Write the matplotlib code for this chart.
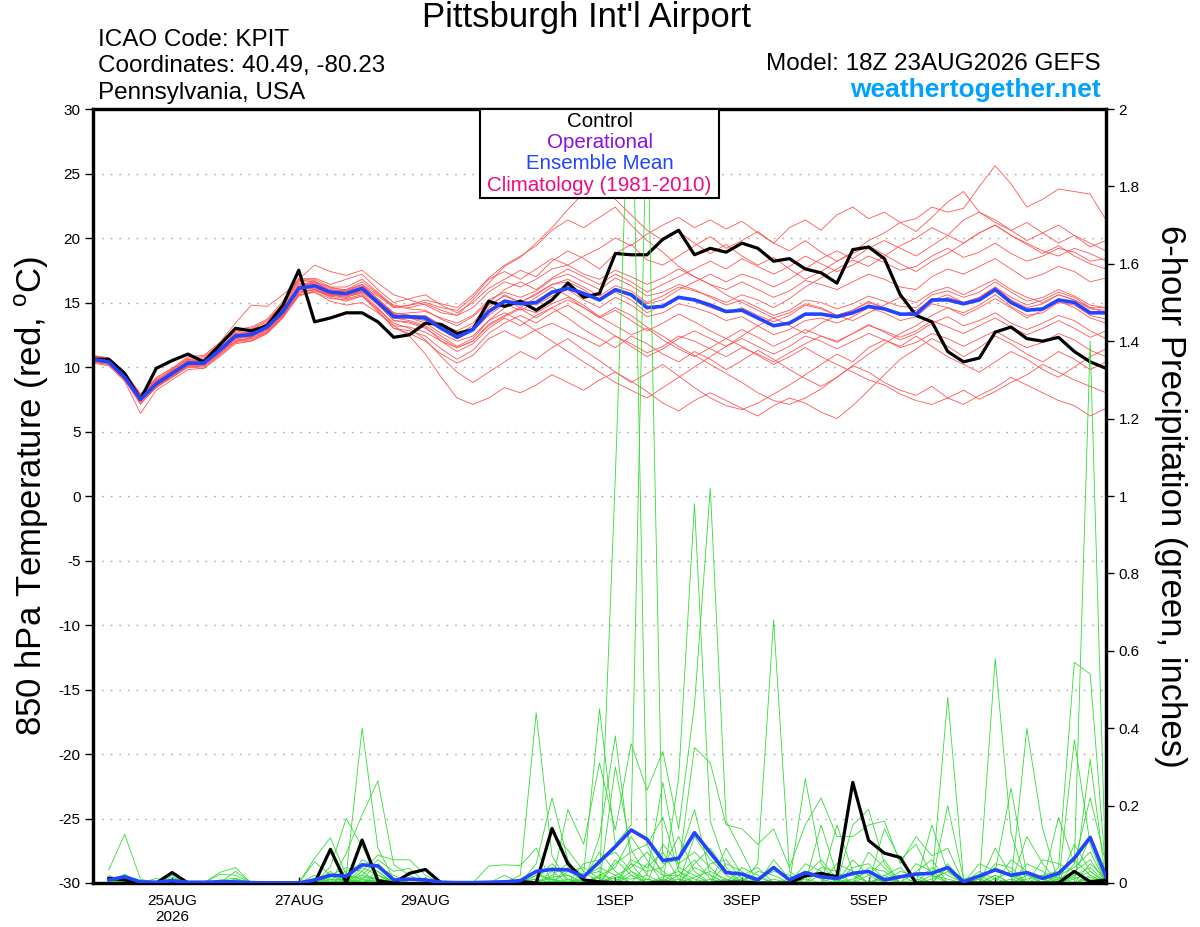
import matplotlib
matplotlib.use("Agg")
import matplotlib.pyplot as plt
from matplotlib.patches import Rectangle
from matplotlib.ticker import FuncFormatter

plt.rcParams['font.family'] = ['Liberation Sans', 'DejaVu Sans']
plt.rcParams['mathtext.fontset'] = 'custom'
plt.rcParams['mathtext.rm'] = 'Liberation Sans'

# ---------------- data ----------------
TEMP_HOURS = list(range(0, 385, 6))      # hours after 18Z 23AUG2026
PRECIP_HOURS = list(range(6, 385, 6))

XTICK_HOURS = [30, 78, 126, 198, 246, 294, 342]
XTICK_LABELS = ['25AUG\n2026', '27AUG', '29AUG', '1SEP', '3SEP', '5SEP', '7SEP']
TEMP_TICKS = [30, 25, 20, 15, 10, 5, 0, -5, -10, -15, -20, -25, -30]
PRECIP_TICKS = [0, 0.2, 0.4, 0.6, 0.8, 1.0, 1.2, 1.4, 1.6, 1.8, 2.0]

CONTROL_TEMP = [10.6, 10.6, 9.5, 7.5, 9.9, 10.5, 11.0, 10.4, 11.7, 13.0, 12.8, 13.2, 14.8,
                17.5, 13.5, 13.8, 14.2, 14.2, 13.5, 12.3, 12.5, 13.4, 13.3, 12.6, 12.9, 15.1,
                14.7, 15.1, 14.4, 15.2, 16.5, 15.4, 15.7, 18.8, 18.7, 18.7, 19.9, 20.6, 18.7,
                19.2, 18.9, 19.6, 19.2, 18.2, 18.4, 17.6, 17.3, 16.5, 19.1, 19.3, 18.4, 15.6,
                14.0, 13.5, 11.2, 10.4, 10.7, 12.7, 13.1, 12.2, 12.0, 12.3, 11.2, 10.4, 9.9]

MEAN_TEMP = [10.6, 10.4, 9.2, 7.5, 8.7, 9.5, 10.3, 10.3, 11.3, 12.4, 12.5, 13.1, 14.3,
             16.1, 16.3, 15.8, 15.7, 16.1, 15.0, 13.9, 13.9, 13.8, 13.0, 12.3, 12.9, 14.3,
             15.1, 14.9, 15.0, 15.8, 16.1, 15.7, 15.2, 16.0, 15.6, 14.6, 14.7, 15.4, 15.2,
             14.8, 14.3, 14.4, 13.8, 13.2, 13.4, 14.1, 14.1, 13.9, 14.2, 14.7, 14.5, 14.1,
             14.1, 15.2, 15.2, 14.9, 15.2, 16.0, 15.0, 14.4, 14.5, 15.2, 15.0, 14.2, 14.2]

TEMP_MEMBERS = [
    [10.8, 10.6, 9.4, 7.8, 8.9, 9.8, 10.6, 10.5, 11.6, 12.8, 13.0, 13.6, 14.9,
     16.6, 16.9, 16.4, 16.8, 17.2, 16.0, 15.0, 15.3, 15.6, 14.8, 14.2, 15.0, 16.1,
     16.8, 17.5, 17.0, 18.2, 19.0, 18.4, 17.6, 18.8, 19.5, 18.3, 17.9, 18.6, 19.4,
     20.1, 19.2, 19.8, 20.5, 19.6, 20.8, 21.4, 20.6, 21.8, 22.4, 21.5, 22.0, 21.2,
     21.5, 22.4, 22.0, 22.3, 24.0, 25.6, 24.2, 22.4, 23.0, 23.8, 23.6, 23.4, 21.4],
    [10.4, 10.2, 9.0, 7.2, 8.4, 9.3, 10.1, 10.0, 11.0, 12.3, 12.6, 13.4, 14.8,
     16.8, 17.9, 17.4, 17.1, 17.5, 16.5, 15.6, 15.2, 14.8, 14.2, 14.0, 15.2, 16.5,
     17.8, 18.5, 19.6, 20.8, 22.2, 23.5, 24.2, 23.0, 21.8, 20.6, 19.8, 20.5, 19.6,
     18.8, 19.5, 18.6, 17.9, 18.5, 17.6, 16.8, 17.4, 18.2, 18.9, 19.8, 20.4, 21.2,
     20.5, 21.6, 22.8, 23.6, 22.0, 21.4, 20.6, 19.8, 20.4, 19.6, 20.2, 19.3, 19.8],
    [10.9, 10.7, 9.6, 7.9, 9.0, 9.7, 10.4, 10.6, 11.5, 12.1, 12.2, 12.7, 14.0,
     15.6, 15.8, 15.1, 14.8, 15.0, 14.2, 13.2, 12.4, 11.0, 9.2, 7.6, 7.1, 7.6,
     8.4, 8.0, 8.6, 9.4, 8.8, 8.2, 9.0, 9.6, 8.9, 8.1, 7.2, 6.6, 7.4,
     8.0, 7.4, 6.8, 6.2, 7.0, 7.6, 7.2, 6.5, 6.0, 7.0, 8.2, 9.4, 10.6,
     11.4, 12.2, 11.6, 10.8, 11.5, 12.4, 11.8, 11.0, 10.4, 11.2, 10.6, 9.8, 10.4],
    [10.5, 10.3, 9.1, 7.4, 8.5, 9.2, 10.0, 10.2, 11.2, 12.0, 12.3, 12.9, 14.1,
     15.9, 16.0, 15.4, 15.1, 15.5, 14.5, 13.4, 13.0, 12.1, 10.8, 9.6, 8.8, 9.6,
     10.4, 11.2, 10.6, 11.5, 12.2, 11.3, 10.5, 9.6, 8.8, 9.5, 10.2, 9.3, 8.4,
     7.6, 7.0, 6.7, 7.2, 7.9, 8.6, 9.4, 10.2, 11.0, 10.4, 11.5, 12.1, 11.6,
     12.4, 11.6, 10.8, 10.2, 9.6, 10.4, 11.2, 10.6, 9.8, 9.2, 10.0, 10.8, 11.4],
    [10.7, 10.5, 9.3, 7.6, 8.8, 9.6, 10.4, 10.4, 11.4, 12.5, 12.6, 13.0, 14.2,
     16.0, 16.2, 15.6, 15.4, 15.9, 14.8, 13.6, 13.5, 13.1, 12.0, 11.2, 11.8, 13.0,
     13.8, 13.2, 14.0, 14.6, 13.8, 12.9, 12.2, 11.5, 12.4, 11.8, 11.0, 10.4, 11.2,
     10.6, 9.8, 10.5, 11.3, 10.6, 9.8, 9.1, 8.5, 9.2, 10.1, 9.6, 8.8, 8.2,
     7.8, 8.5, 7.6, 7.1, 7.8, 8.4, 9.2, 8.6, 8.0, 7.4, 7.0, 6.2, 6.8],
    [10.3, 10.1, 8.9, 6.4, 8.2, 9.0, 9.8, 9.9, 10.8, 11.8, 12.0, 12.6, 13.8,
     15.5, 15.9, 15.5, 15.6, 16.0, 15.2, 14.2, 14.0, 14.0, 13.2, 12.5, 13.2, 14.4,
     15.2, 14.6, 15.4, 16.2, 15.5, 14.8, 13.9, 13.2, 12.5, 13.0, 12.1, 11.4, 10.8,
     11.5, 12.2, 11.6, 10.9, 10.2, 10.8, 11.5, 10.8, 10.2, 9.6, 9.0, 8.6, 7.9,
     7.4, 7.1, 7.6, 8.2, 7.5, 8.1, 8.8, 9.4, 10.2, 9.6, 9.0, 8.5, 8.0],
    [10.6, 10.4, 9.2, 7.6, 8.8, 9.6, 10.5, 10.4, 11.5, 12.6, 12.7, 13.3, 14.6,
     16.3, 16.5, 16.0, 15.9, 16.3, 15.2, 14.1, 14.2, 14.3, 13.8, 13.4, 14.0, 15.2,
     15.8, 15.4, 15.9, 16.8, 17.2, 16.6, 16.0, 16.9, 16.3, 15.5, 15.8, 16.4, 16.0,
     15.4, 14.8, 15.2, 14.6, 14.0, 14.4, 15.2, 15.0, 14.5, 14.9, 15.5, 15.1, 14.7,
     14.6, 15.6, 15.9, 15.4, 15.8, 16.6, 15.8, 15.1, 15.4, 16.0, 15.5, 14.8, 14.6],
    [10.8, 10.7, 9.6, 7.9, 9.1, 9.9, 10.7, 10.8, 11.8, 12.9, 13.1, 13.7, 15.1,
     16.9, 16.8, 16.2, 15.9, 16.4, 15.6, 14.8, 14.6, 14.9, 14.4, 14.0, 14.6, 15.8,
     16.6, 16.2, 16.8, 17.6, 17.9, 17.2, 16.8, 17.5, 17.0, 16.4, 16.9, 17.6, 17.0,
     16.4, 16.0, 16.6, 16.0, 15.4, 15.9, 16.7, 16.4, 16.0, 16.6, 17.2, 16.8, 16.2,
     16.0, 17.0, 17.6, 17.2, 17.8, 18.4, 17.6, 16.8, 17.2, 17.8, 17.4, 16.6, 16.9],
    [10.4, 10.2, 9.1, 7.3, 8.6, 9.4, 10.2, 10.1, 11.1, 12.2, 12.4, 13.0, 14.4,
     16.2, 16.6, 16.1, 16.0, 16.6, 15.7, 14.6, 14.8, 15.0, 14.6, 14.4, 15.4, 16.8,
     17.4, 16.8, 17.6, 18.4, 17.9, 18.6, 19.2, 20.0, 19.4, 20.3, 21.0, 21.6, 20.8,
     21.4, 20.7, 21.3, 20.4, 19.6, 19.0, 19.8, 18.9, 18.2, 18.8, 19.4, 18.7, 18.0,
     17.4, 18.2, 18.8, 19.6, 20.4, 21.0, 20.2, 19.5, 18.8, 19.4, 18.6, 18.0, 17.6],
    [10.6, 10.4, 9.4, 7.7, 8.6, 9.3, 10.0, 10.1, 11.0, 12.0, 12.2, 12.8, 14.0,
     15.8, 16.0, 15.6, 15.5, 15.7, 14.6, 13.2, 13.1, 12.7, 12.0, 11.5, 12.0, 13.2,
     13.9, 14.5, 13.8, 14.6, 15.2, 14.6, 13.8, 14.4, 13.6, 12.8, 13.4, 14.1, 13.5,
     12.8, 12.2, 12.9, 12.3, 11.6, 12.2, 12.9, 12.4, 11.9, 12.6, 13.3, 12.7, 12.1,
     12.6, 13.4, 13.9, 13.2, 13.6, 14.2, 13.4, 12.9, 13.4, 14.0, 13.6, 12.8, 12.2],
    [10.9, 10.6, 9.4, 7.5, 8.9, 9.8, 10.6, 10.7, 11.7, 12.7, 12.9, 13.5, 14.9,
     16.8, 16.7, 15.8, 15.5, 15.9, 15.0, 14.1, 13.8, 13.4, 12.6, 12.0, 12.4, 13.6,
     14.6, 15.2, 14.8, 15.5, 16.0, 15.2, 14.6, 15.4, 14.8, 13.9, 14.2, 14.9, 14.6,
     14.2, 13.6, 13.9, 13.2, 12.5, 12.9, 13.6, 13.8, 13.4, 13.9, 14.6, 14.2, 13.6,
     13.9, 14.9, 14.6, 14.2, 14.8, 15.6, 14.7, 14.0, 14.2, 15.0, 14.8, 14.0, 13.7],
    [10.5, 10.3, 9.0, 7.1, 8.5, 9.4, 10.3, 10.3, 11.4, 12.6, 12.7, 13.4, 14.7,
     16.5, 16.4, 15.9, 16.0, 16.4, 15.3, 14.2, 14.0, 13.7, 12.9, 12.3, 13.0, 14.6,
     15.6, 15.0, 15.7, 16.4, 16.8, 16.2, 15.5, 16.3, 15.9, 15.0, 15.5, 16.2, 15.9,
     15.5, 15.0, 15.6, 15.2, 14.6, 15.3, 16.2, 16.9, 17.6, 18.3, 17.8, 18.6, 19.4,
     20.0, 20.8, 20.2, 21.4, 22.0, 21.2, 20.6, 21.2, 20.4, 21.0, 20.2, 19.6, 19.0],
    [10.7, 10.5, 9.3, 7.7, 8.7, 9.5, 10.2, 10.2, 11.2, 12.3, 12.4, 13.0, 14.2,
     16.0, 16.1, 15.6, 15.4, 15.8, 14.9, 13.8, 13.6, 13.2, 12.4, 11.6, 12.2, 13.6,
     14.2, 13.6, 12.8, 12.0, 11.2, 10.4, 9.6, 8.8, 8.2, 7.6, 8.4, 9.2, 10.0,
     10.8, 11.6, 12.4, 13.2, 13.8, 13.2, 12.6, 13.4, 14.0, 13.6, 14.2, 14.8, 15.4,
     15.0, 15.8, 16.2, 15.6, 16.2, 16.8, 16.0, 15.4, 15.0, 15.6, 15.2, 14.6, 14.2],
    [10.6, 10.5, 9.5, 7.8, 9.0, 9.7, 10.4, 10.6, 11.4, 12.3, 12.5, 13.1, 14.5,
     16.4, 16.6, 16.2, 16.2, 16.8, 15.8, 14.7, 14.5, 14.4, 13.7, 13.2, 13.9, 15.0,
     16.0, 16.6, 16.0, 16.9, 17.6, 17.0, 16.4, 17.2, 16.6, 15.8, 16.4, 17.0, 17.6,
     18.2, 17.6, 18.4, 17.8, 17.2, 17.8, 18.6, 18.0, 17.4, 17.9, 18.6, 18.1, 17.5,
     17.8, 18.6, 19.2, 18.5, 18.9, 19.6, 18.8, 18.2, 18.6, 19.2, 18.9, 18.2, 18.4],
    [10.4, 10.2, 9.0, 7.4, 8.4, 9.2, 10.0, 9.9, 10.9, 11.9, 12.0, 12.6, 13.9,
     15.7, 16.0, 15.5, 15.3, 15.6, 14.4, 13.0, 12.6, 12.0, 11.0, 10.3, 10.9, 12.2,
     12.8, 12.2, 12.9, 13.4, 12.8, 12.2, 11.6, 12.4, 11.8, 11.1, 11.6, 12.4, 12.0,
     11.4, 10.8, 11.5, 11.0, 10.4, 11.1, 11.8, 12.4, 12.0, 12.6, 13.2, 12.8, 12.3,
     12.8, 13.6, 13.1, 12.6, 13.2, 13.8, 13.1, 12.5, 13.0, 13.6, 13.0, 12.3, 12.8],
    [10.8, 10.6, 9.5, 7.9, 9.2, 9.9, 10.8, 10.9, 11.9, 13.4, 14.8, 14.7, 15.6,
     16.7, 16.6, 15.8, 15.6, 16.2, 15.5, 14.6, 14.8, 15.2, 14.9, 14.6, 15.6, 16.9,
     17.9, 18.6, 19.4, 20.6, 21.4, 20.8, 21.6, 22.4, 21.0, 19.8, 18.9, 17.8, 17.0,
     16.4, 15.6, 15.0, 14.4, 13.8, 14.2, 14.9, 14.6, 14.0, 14.4, 15.0, 14.6, 14.0,
     14.4, 15.2, 15.6, 15.0, 15.4, 16.2, 15.4, 14.8, 15.2, 15.8, 15.4, 14.6, 14.6],
    [10.5, 10.4, 9.3, 7.5, 8.6, 9.4, 10.2, 10.3, 11.2, 12.2, 12.3, 12.9, 14.1,
     15.8, 16.0, 15.6, 15.6, 15.9, 14.9, 13.6, 13.4, 13.0, 12.2, 11.5, 12.0, 13.3,
     14.0, 14.6, 14.2, 14.9, 15.4, 14.6, 13.9, 14.6, 14.0, 13.1, 12.4, 11.6, 10.9,
     10.2, 9.5, 8.8, 8.0, 7.4, 7.1, 7.6, 8.3, 9.2, 10.1, 11.0, 11.8, 12.6,
     13.2, 14.0, 14.6, 14.0, 14.6, 15.3, 14.6, 13.8, 14.4, 15.1, 14.6, 13.8, 13.4],
    [10.6, 10.3, 9.1, 7.3, 8.5, 9.4, 10.3, 10.2, 11.3, 12.5, 12.5, 13.2, 14.4,
     16.2, 16.2, 15.6, 15.6, 16.0, 14.9, 13.8, 13.8, 13.9, 13.3, 12.8, 13.4, 14.8,
     15.5, 15.0, 15.6, 16.4, 16.6, 16.0, 15.2, 15.8, 15.2, 14.2, 14.8, 15.5, 15.1,
     14.6, 14.2, 14.6, 14.0, 13.5, 14.0, 14.8, 14.5, 14.0, 14.4, 15.1, 14.6, 14.0,
     14.2, 15.0, 15.4, 15.0, 15.4, 16.2, 15.2, 14.6, 14.9, 15.6, 15.2, 14.5, 14.4],
    [10.7, 10.6, 9.2, 7.5, 8.8, 9.7, 10.5, 10.4, 11.4, 12.6, 12.6, 13.2, 14.4,
     16.2, 16.4, 15.9, 15.8, 16.2, 15.0, 13.8, 13.8, 13.6, 12.9, 12.2, 12.8, 14.0,
     14.9, 14.4, 15.0, 15.8, 16.2, 15.8, 15.3, 16.0, 15.7, 14.9, 15.2, 16.0, 16.6,
     17.2, 16.6, 17.2, 16.8, 16.2, 16.8, 17.6, 18.4, 19.0, 18.4, 19.2, 19.8, 19.2,
     18.6, 19.4, 20.2, 19.6, 20.4, 21.0, 20.2, 19.6, 19.0, 18.6, 19.2, 18.8, 18.2],
    [10.4, 10.3, 9.2, 7.4, 8.6, 9.4, 10.1, 10.2, 11.1, 12.0, 12.1, 12.7, 13.9,
     15.6, 15.8, 15.3, 15.2, 15.5, 14.3, 13.0, 12.8, 12.4, 11.4, 10.6, 11.3, 12.6,
     13.4, 14.0, 13.4, 14.2, 14.8, 14.0, 13.2, 12.4, 11.6, 10.8, 11.4, 12.2, 12.8,
     12.2, 11.6, 12.2, 11.6, 11.0, 11.6, 12.4, 12.0, 11.4, 12.0, 12.6, 12.1, 11.5,
     11.9, 12.6, 12.2, 11.6, 12.2, 12.8, 12.1, 11.5, 11.9, 12.6, 12.1, 11.3, 10.8],
]

CONTROL_PRECIP = [0.012, 0.008, 0, 0, 0.027, 0, 0, 0,
                  0, 0, 0, 0, 0, 0, 0.087, 0,
                  0.111, 0.006, 0, 0.025, 0.035, 0, 0, 0,
                  0, 0.002, 0.004, 0, 0.141, 0.05, 0.008, 0.003,
                  0.001, 0, 0, 0.002, 0, 0, 0, 0.002,
                  0.002, 0, 0, 0, 0.018, 0.025, 0.016, 0.26,
                  0.11, 0.077, 0.066, 0, 0, 0, 0, 0,
                  0, 0, 0, 0, 0, 0.03, 0.003, 0.008]

MEAN_PRECIP = [0.008, 0.016, 0.003, 0.002, 0.006, 0.002, 0.002, 0.003,
               0.003, 0.001, 0, 0, 0, 0.008, 0.02, 0.018,
               0.047, 0.044, 0.008, 0.01, 0.008, 0.002, 0.001, 0.001,
               0.002, 0.003, 0.006, 0.03, 0.035, 0.034, 0.016, 0.055,
               0.094, 0.137, 0.113, 0.058, 0.064, 0.13, 0.078, 0.027,
               0.023, 0.008, 0.04, 0.008, 0.027, 0.016, 0.012, 0.025,
               0.03, 0.008, 0.016, 0.023, 0.025, 0.04, 0.003, 0.018,
               0.034, 0.02, 0.027, 0.012, 0.025, 0.064, 0.118, 0.016]

# member precipitation: non-zero 6-hour totals (inches) keyed by forecast hour
PRECIP_MEMBERS = [
    {6: 0.034, 12: 0.126, 18: 0.01, 90: 0.042, 96: 0.167, 102: 0.094, 108: 0.02, 168: 0.05,
     174: 0.22, 180: 0.06, 198: 1.05, 204: 2.25, 210: 0.1, 216: 0.02, 252: 0.05, 258: 0.68,
     264: 0.03, 300: 0.02, 318: 0.15, 324: 0.03, 342: 0.09, 348: 0.02, 372: 0.05, 378: 1.40},
    {12: 0.023, 30: 0.02, 84: 0.064, 90: 0.117, 96: 0.02, 102: 0.40, 108: 0.09, 114: 0.01,
     186: 0.025, 192: 0.45, 198: 0.1, 204: 0.15, 210: 2.05, 216: 0.05, 222: 0.06, 228: 0.19,
     234: 0.02, 270: 0.27, 276: 0.05, 324: 0.48, 330: 0.01, 336: 0.02, 354: 0.12, 360: 0.05,
     372: 0.37, 378: 0.1},
    {6: 0.02, 24: 0.012, 48: 0.027, 54: 0.04, 84: 0.02, 96: 0.077, 102: 0.176, 108: 0.264,
     114: 0.047, 120: 0.02, 162: 0.02, 168: 0.44, 174: 0.07, 192: 0.12, 198: 0.38, 204: 0.05,
     222: 0.27, 228: 0.98, 234: 0.16, 240: 0.04, 288: 0.15, 294: 0.19, 300: 0.05, 342: 0.58,
     348: 0.13, 366: 0.04, 372: 0.57, 378: 0.54, 384: 0.02},
    {12: 0.015, 30: 0.015, 54: 0.03, 90: 0.03, 102: 0.03, 108: 0.072, 114: 0.06, 120: 0.06,
     126: 0.02, 150: 0.044, 156: 0.047, 162: 0.045, 168: 0.09, 180: 0.19, 186: 0.1, 192: 0.31,
     198: 0.137, 204: 0.36, 210: 0.24, 216: 0.34, 222: 0.14, 228: 0.46, 234: 1.02, 240: 0.16,
     246: 0.08, 282: 0.15, 288: 0.03, 324: 0.2, 330: 0.01, 354: 0.40, 360: 0.14, 378: 0.32},
    {6: 0.01, 48: 0.022, 54: 0.02, 84: 0.055, 90: 0.02, 102: 0.02, 108: 0.06, 114: 0.03,
     120: 0.038, 174: 0.13, 180: 0.085, 186: 0.03, 198: 0.30, 204: 0.085, 210: 0.02,
     216: 0.26, 222: 0.04, 228: 0.35, 234: 0.31, 240: 0.15, 246: 0.14, 252: 0.1, 258: 0.14,
     264: 0.04, 270: 0.15, 276: 0.22, 282: 0.12, 288: 0.12, 294: 0.15, 300: 0.16, 306: 0.05,
     312: 0.12, 318: 0.07, 324: 0.09, 336: 0.05, 342: 0.03, 348: 0.245, 354: 0.02, 366: 0.17,
     372: 0.05, 378: 0.22, 384: 0.05},
    {12: 0.01, 96: 0.01, 102: 0.02, 108: 0.01, 168: 0.02, 174: 0.04, 180: 0.02, 198: 0.05,
     204: 0.08, 210: 0.1, 216: 0.17, 222: 0.03, 240: 0.09, 246: 0.02, 276: 0.15, 282: 0.02,
     300: 0.14, 306: 0.06, 312: 0.1, 318: 0.02, 360: 0.02, 366: 0.03, 372: 0.06, 378: 0.02},
    {30: 0.01, 90: 0.015, 96: 0.03, 102: 0.05, 108: 0.03, 162: 0.01, 174: 0.03, 186: 0.05,
     192: 0.06, 198: 0.08, 204: 0.03, 216: 0.1, 222: 0.05, 228: 0.08, 234: 0.04, 252: 0.03,
     258: 0.02, 294: 0.04, 300: 0.03, 324: 0.05, 336: 0.01, 342: 0.04, 348: 0.02, 378: 0.05,
     384: 0.01},
    {6: 0.008, 12: 0.02, 84: 0.01, 90: 0.01, 102: 0.06, 108: 0.04, 114: 0.02, 156: 0.02,
     168: 0.03, 180: 0.04, 192: 0.02, 198: 0.04, 204: 0.12, 210: 0.06, 228: 0.05, 234: 0.09,
     240: 0.03, 270: 0.05, 276: 0.03, 288: 0.06, 294: 0.02, 312: 0.03, 318: 0.06, 342: 0.02,
     354: 0.05, 360: 0.03, 372: 0.1, 378: 0.03},
    {54: 0.01, 96: 0.02, 102: 0.01, 108: 0.05, 114: 0.01, 174: 0.02, 180: 0.05, 186: 0.02,
     192: 0.03, 204: 0.05, 210: 0.03, 216: 0.04, 222: 0.12, 228: 0.03, 246: 0.04, 252: 0.02,
     282: 0.05, 288: 0.03, 300: 0.02, 306: 0.04, 336: 0.03, 342: 0.01, 366: 0.02, 372: 0.04,
     378: 0.08},
    {12: 0.008, 90: 0.02, 96: 0.04, 102: 0.03, 168: 0.01, 174: 0.05, 180: 0.01, 198: 0.02,
     204: 0.04, 210: 0.08, 216: 0.03, 228: 0.12, 234: 0.06, 240: 0.02, 258: 0.06, 264: 0.01,
     294: 0.08, 300: 0.04, 318: 0.04, 324: 0.02, 348: 0.06, 354: 0.03, 372: 0.02, 378: 0.12,
     384: 0.03},
    {6: 0.015, 102: 0.04, 108: 0.02, 186: 0.01, 192: 0.08, 198: 0.03, 210: 0.05, 216: 0.02,
     222: 0.02, 234: 0.05, 240: 0.06, 246: 0.01, 276: 0.04, 282: 0.03, 312: 0.05, 318: 0.03,
     360: 0.06, 366: 0.05, 372: 0.03},
    {90: 0.01, 96: 0.01, 108: 0.03, 120: 0.01, 168: 0.02, 174: 0.01, 198: 0.06, 204: 0.02,
     222: 0.04, 228: 0.02, 252: 0.01, 258: 0.03, 264: 0.02, 288: 0.04, 294: 0.05, 300: 0.01,
     330: 0.005, 342: 0.05, 348: 0.04, 378: 0.02},
    {48: 0.008, 54: 0.012, 102: 0.015, 108: 0.01, 180: 0.03, 186: 0.04, 192: 0.01, 204: 0.06,
     210: 0.04, 216: 0.08, 222: 0.01, 240: 0.05, 246: 0.03, 270: 0.03, 276: 0.01, 306: 0.03,
     312: 0.02, 354: 0.02, 360: 0.01, 372: 0.02, 378: 0.04},
    {84: 0.005, 90: 0.005, 102: 0.01, 162: 0.005, 168: 0.01, 192: 0.02, 198: 0.01, 216: 0.01,
     228: 0.04, 234: 0.02, 264: 0.01, 294: 0.02, 300: 0.06, 324: 0.04, 330: 0.01, 366: 0.01,
     372: 0.03, 378: 0.06},
    {12: 0.005, 96: 0.005, 108: 0.02, 114: 0.005, 174: 0.015, 180: 0.02, 204: 0.03, 210: 0.01,
     222: 0.02, 228: 0.06, 234: 0.01, 246: 0.02, 252: 0.04, 282: 0.02, 288: 0.02, 318: 0.01,
     324: 0.03, 342: 0.01, 348: 0.03},
    {102: 0.008, 108: 0.005, 186: 0.015, 192: 0.04, 198: 0.02, 216: 0.015, 222: 0.03,
     228: 0.01, 240: 0.01, 270: 0.02, 276: 0.06, 282: 0.01, 300: 0.01, 306: 0.02, 354: 0.01,
     360: 0.02, 378: 0.01},
    {6: 0.005, 90: 0.008, 96: 0.01, 168: 0.005, 174: 0.01, 198: 0.015, 204: 0.01, 210: 0.02,
     228: 0.015, 234: 0.03, 240: 0.01, 258: 0.01, 288: 0.01, 294: 0.03, 312: 0.01, 342: 0.02,
     372: 0.01, 378: 0.03},
    {108: 0.01, 114: 0.005, 180: 0.01, 192: 0.015, 204: 0.02, 216: 0.005, 246: 0.01,
     252: 0.015, 276: 0.02, 282: 0.005, 318: 0.02, 324: 0.01, 360: 0.01, 366: 0.015},
    {102: 0.005, 174: 0.005, 186: 0.005, 210: 0.01, 222: 0.01, 234: 0.01, 264: 0.005,
     270: 0.01, 300: 0.015, 336: 0.01, 372: 0.015, 384: 0.01},
    {96: 0.005, 180: 0.005, 198: 0.005, 216: 0.01, 228: 0.005, 240: 0.005, 288: 0.005,
     348: 0.01, 378: 0.015},
]

# ---------------- figure ----------------
W, H = 1200, 927
fig = plt.figure(figsize=(W / 100, H / 100), dpi=100)
L, R, T, B = 93, 1106, 109, 883
ax = fig.add_axes([L / W, 1 - B / H, (R - L) / W, (B - T) / H])
ax2 = ax.twinx()

RED = '#ff5555'
GREEN = '#33dd33'
BLUE = '#2244ff'

for m in TEMP_MEMBERS:
    ax.plot(TEMP_HOURS[:len(m)], m, color=RED, lw=0.6, zorder=2)
ax.plot(TEMP_HOURS, CONTROL_TEMP, color='black', lw=2.3, zorder=4)
ax.plot(TEMP_HOURS, MEAN_TEMP, color=BLUE, lw=2.6, zorder=5)

for d in PRECIP_MEMBERS:
    vals = [d.get(h, 0.0) for h in PRECIP_HOURS]
    ax2.plot(PRECIP_HOURS, vals, color=GREEN, lw=0.6, zorder=2)
ax2.plot(PRECIP_HOURS, CONTROL_PRECIP, color='black', lw=2.3, zorder=4)
ax2.plot(PRECIP_HOURS, MEAN_PRECIP, color=BLUE, lw=2.6, zorder=5)

ax.set_xlim(0, 384)
ax.set_ylim(-30, 30)
ax2.set_ylim(0, 2)

ax.set_yticks(TEMP_TICKS)
ax.set_yticklabels([str(t) for t in TEMP_TICKS])
ax2.set_yticks(PRECIP_TICKS)
ax2.yaxis.set_major_formatter(FuncFormatter(lambda v, p: ('%g' % round(v, 1))))
ax.set_xticks(XTICK_HOURS)
ax.set_xticklabels(XTICK_LABELS, fontsize=11, linespacing=1.15)

for t in TEMP_TICKS[1:-1]:
    ax.axhline(t, color='#aaaaaa', lw=1.0, ls=(0, (1.2, 5)), zorder=1)

ax.tick_params(axis='y', direction='out', length=6, width=1, labelsize=11, pad=3)
ax.tick_params(axis='x', direction='in', length=4, width=1, pad=8)
ax2.tick_params(axis='y', direction='out', length=6, width=1, labelsize=11, pad=3)

for a in (ax, ax2):
    for s in a.spines.values():
        s.set_linewidth(2.3)
        s.set_color('black')

fig.text(32 / W, 1 - 496 / H, '850 hPa Temperature (red, $^{\\rm o}$C)', rotation=90,
         ha='center', va='center', fontsize=25)
fig.text(1170 / W, 1 - 496 / H, '6-hour Precipitation (green, inches)', rotation=-90,
         ha='center', va='center', fontsize=25)

# legend box
lx0 = (480 - L) / (R - L)
lx1 = (719 - L) / (R - L)
ly0 = (B - 198) / (B - T)
ax2.add_patch(Rectangle((lx0, ly0), lx1 - lx0, 1 - ly0, transform=ax2.transAxes,
                        facecolor='white', edgecolor='black', lw=1.5, zorder=10,
                        clip_on=False))
legend_items = [('Control', 'black', 121), ('Operational', '#8a10dd', 142),
                ('Ensemble Mean', '#2244ff', 163), ('Climatology (1981-2010)', '#ee0a80', 185)]
for txt, col, py in legend_items:
    ax2.text((lx0 + lx1) / 2, (B - py) / (B - T), txt, color=col, fontsize=14.8,
             ha='center', va='center', transform=ax2.transAxes, zorder=11)

# header texts
fig.text(586 / W, 1 - 18 / H, "Pittsburgh Int'l Airport", ha='center', va='center', fontsize=25)
fig.text(98 / W, 1 - 40 / H, 'ICAO Code: KPIT', ha='left', va='center', fontsize=17.5)
fig.text(98 / W, 1 - 66 / H, 'Coordinates: 40.49, -80.23', ha='left', va='center', fontsize=17.5)
fig.text(98 / W, 1 - 93 / H, 'Pennsylvania, USA', ha='left', va='center', fontsize=17.5)
fig.text(1101 / W, 1 - 64 / H, 'Model: 18Z 23AUG2026 GEFS', ha='right', va='center', fontsize=17.5)
fig.text(1101 / W, 1 - 90 / H, 'weathertogether.net', ha='right', va='center', fontsize=19,
         fontweight='bold', color='#00a2ff')

fig.savefig('out.png', dpi=100)
